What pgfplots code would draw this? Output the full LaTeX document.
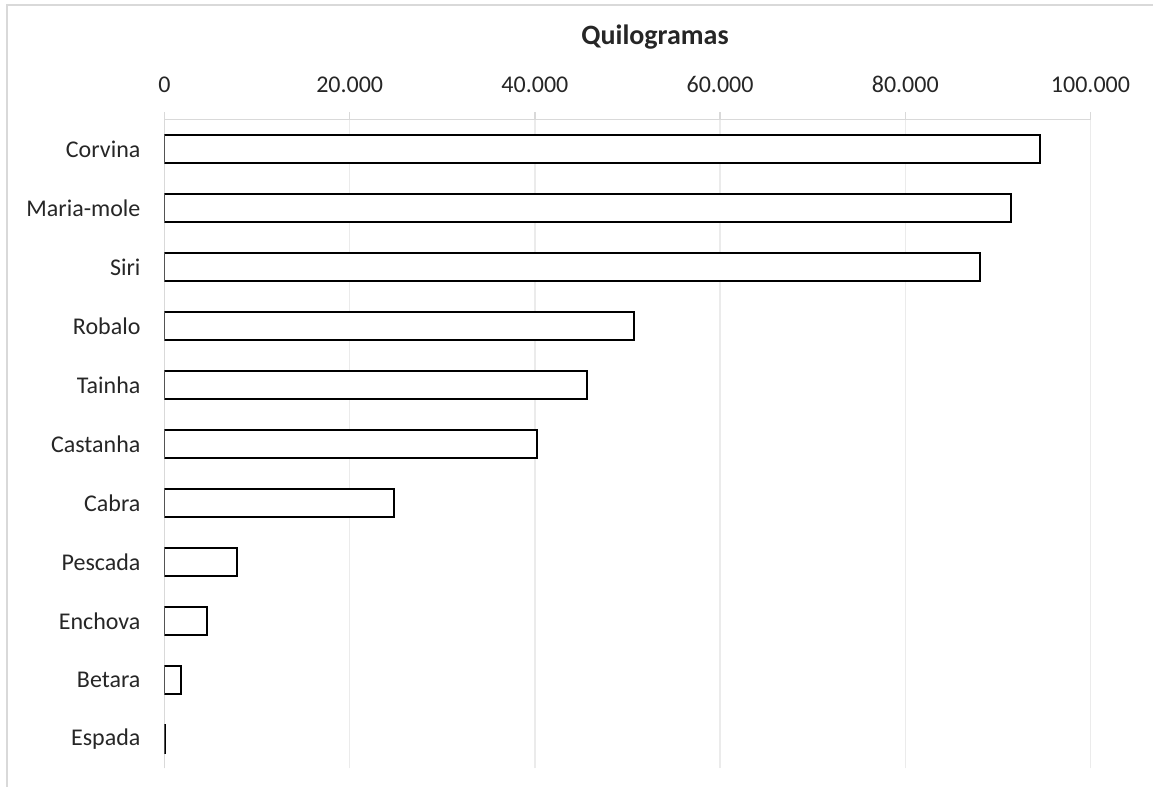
\documentclass[border=0pt]{standalone}
\usepackage{fontspec}
\setmainfont{Carlito}
\usepackage{pgfplots}
\pgfplotsset{compat=1.18}
\definecolor{gridc}{HTML}{D9D9D9}
\definecolor{gridl}{HTML}{EBEBEB}
\definecolor{txt}{HTML}{262626}

\begin{document}
\begin{tikzpicture}
\path[use as bounding box] (0,0) rectangle (576.5pt,393.5pt);
\draw[gridc, line width=0.75pt] (3.5pt,0) -- (3.5pt,391pt) -- (576.5pt,391pt);
\node[anchor=base, font=\fontsize{14}{16}\selectfont\bfseries, text=txt] at (327.5pt,371.4pt) {Quilogramas};
\begin{axis}[
  at={(82.25pt,9.25pt)}, anchor=south west,
  scale only axis, width=463pt, height=324.5pt,
  xbar, bar width=14.2pt,
  xmin=0, xmax=100000, ymin=-0.5, ymax=10.5,
  scaled x ticks=false,
  axis x line*=top, axis y line*=left,
  axis line style={gridc, line width=0.75pt, -},
  xtick={0,20000,40000,60000,80000,100000},
  xticklabels={0,20.000,40.000,60.000,80.000,100.000},
  ytick={0,...,10},
  yticklabels={Espada,Betara,Enchova,Pescada,Cabra,Castanha,Tainha,Robalo,Siri,Maria-mole,Corvina},
  xmajorgrids, major grid style={gridl, line width=0.75pt},
  x tick style={gridc, line width=0.75pt}, y tick style={draw=none},
  tick align=outside, major tick length=3.5pt,
  ticklabel style={font=\fontsize{12}{14}\selectfont, text=txt},
  xticklabel style={anchor=base, yshift=10pt},
  yticklabel style={xshift=-5pt},
]
\addplot[draw=black, fill=white, line width=1pt] coordinates {
  (100,0) (1810,1) (4620,2) (7800,3) (24780,4) (40230,5)
  (45660,6) (50670,7) (88100,8) (91380,9) (94550,10)
};
\end{axis}
\end{tikzpicture}
\end{document}
